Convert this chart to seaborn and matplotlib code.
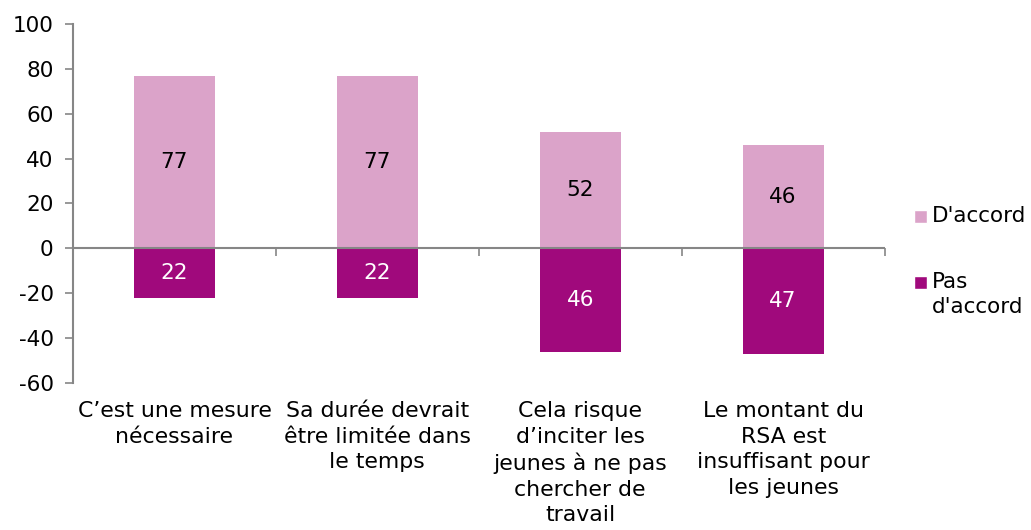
import pandas as pd
import matplotlib.pyplot as plt
import seaborn as sns
from matplotlib.patches import Rectangle

# --- data ---
categories = ["C\u2019est une mesure\nnécessaire",
              "Sa durée devrait\nêtre limitée dans\nle temps",
              "Cela risque\nd\u2019inciter les\njeunes à ne pas\nchercher de\ntravail",
              "Le montant du\nRSA est\ninsuffisant pour\nles jeunes"]
accord = [77, 77, 52, 46]
pas_accord = [-22, -22, -46, -47]
series = ["D'accord", "Pas d'accord"]
legend_labels = ["D'accord", "Pas\nd'accord"]
colors = ["#DBA3C9", "#A0097C"]

df = pd.DataFrame({
    "cat": categories * 2,
    "val": accord + pas_accord,
    "serie": [series[0]] * 4 + [series[1]] * 4,
})

sns.set_style("white")
plt.rcParams['font.family'] = ['DejaVu Sans']
plt.rcParams['axes.unicode_minus'] = False
plt.rcParams['text.color'] = 'black'
plt.rcParams['xtick.color'] = 'black'
plt.rcParams['ytick.color'] = 'black'
fs = 15.5

fig = plt.figure(figsize=(10.31, 5.3), dpi=100)
ax = fig.add_axes([0.0708, 0.2774, 0.7872, 0.6773])

sns.barplot(data=df, x="cat", y="val", hue="serie", dodge=False,
            palette=colors, saturation=1, width=0.4, legend=False, ax=ax,
            edgecolor="none")

for cont, col in zip(ax.containers, ["black", "white"]):
    ax.bar_label(cont, labels=[f"{abs(v):.0f}" for v in cont.datavalues],
                 label_type="center", color=col, fontsize=fs)

ax.set_ylim(-60, 100)
ax.set_xlim(-0.5, 3.5)
ax.set_yticks(range(-60, 101, 20))
ax.set_xlabel("")
ax.set_ylabel("")

grey = "#868686"
for s in ["top", "right", "bottom"]:
    ax.spines[s].set_visible(False)
ax.spines["left"].set_color(grey)
ax.spines["left"].set_linewidth(1.5)
ax.tick_params(axis="y", left=True, length=6, width=1.2, color=grey,
               labelsize=fs, pad=8)
ax.tick_params(axis="x", bottom=False, length=0, labelsize=15.8, pad=13)
for t in ax.get_xticklabels():
    t.set_linespacing(1.35)
    t.set_verticalalignment("top")

# zero line with category separators
ax.axhline(0, color=grey, lw=1.5, zorder=3)
sec = ax.secondary_xaxis(60 / 160)
sec.set_xticks([-0.5, 0.5, 1.5, 2.5, 3.5])
sec.set_xticklabels([])
sec.tick_params(length=6, width=1.2, color=grey, direction="out")
sec.spines["bottom"].set_visible(False)

# legend drawn by hand (square beside first line of label)
W, H = 1031, 530
for lab, col, ytop in zip(legend_labels, colors, [210, 276]):
    fig.patches.append(Rectangle((914 / W, 1 - (ytop + 13) / H), 13 / W, 13 / H,
                                 facecolor=col, transform=fig.transFigure))
    fig.text(932 / W, 1 - (ytop - 4) / H, lab, fontsize=fs, va="top",
             ha="left", linespacing=1.32)

plt.savefig("out.png", dpi=100)
